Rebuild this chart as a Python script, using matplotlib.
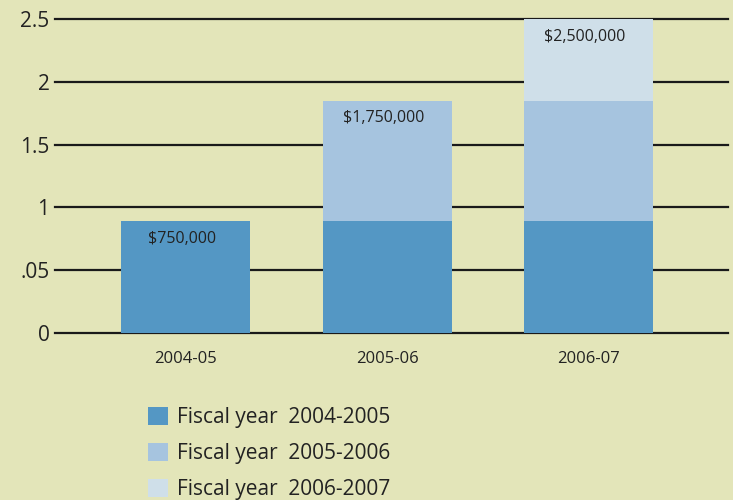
import matplotlib.pyplot as plt
from matplotlib.patches import Patch

years = ["2004-05", "2005-06", "2006-07"]
fy_0405 = [0.89, 0.89, 0.89]
fy_0506 = [0, 0.96, 0.96]
fy_0607 = [0, 0, 0.65]
totals = ["\\$750,000", "\\$1,750,000", "\\$2,500,000"]
yticks = [0, 0.5, 1, 1.5, 2, 2.5]
yticklabels = ["0", ".05", "1", "1.5", "2", "2.5"]
legend_labels = ["Fiscal year  2004-2005", "Fiscal year  2005-2006", "Fiscal year  2006-2007"]

bg = "#e3e5b9"
c1, c2, c3 = "#5497c4", "#a6c4df", "#cfdfe9"
txt = "#222222"

plt.rcParams['font.family'] = ['Open Sans', 'DejaVu Sans']

fig = plt.figure(figsize=(7.33, 5), dpi=100, facecolor=bg)
ax = fig.add_axes([0.075, 0.334, 0.918, 0.628])
ax.set_facecolor(bg)

x = list(range(len(years)))
w = 0.64
bottom2 = fy_0405
bottom3 = [a + b for a, b in zip(fy_0405, fy_0506)]
ax.bar(x, fy_0405, width=w, color=c1, zorder=2)
ax.bar(x, fy_0506, width=w, bottom=bottom2, color=c2, zorder=2)
ax.bar(x, fy_0607, width=w, bottom=bottom3, color=c3, zorder=2)

for i in x:
    top = fy_0405[i] + fy_0506[i] + fy_0607[i]
    ax.annotate(totals[i], (i, top), xytext=(-3, -7), textcoords="offset points",
                ha="center", va="top", fontsize=11.5, color=txt, zorder=3)

ax.set_xlim(-0.65, 2.69)
ax.set_ylim(0, 2.5)
ax.set_yticks(yticks)
ax.set_yticklabels(yticklabels, fontsize=15, color=txt)
ax.set_xticks(x)
ax.set_xticklabels(years, fontsize=12, color=txt)
ax.tick_params(length=0)
ax.tick_params(axis="y", pad=4)
ax.tick_params(axis="x", pad=13)
for s in ax.spines.values():
    s.set_visible(False)
ax.yaxis.grid(True, color="#1a1a1a", linewidth=1.6, zorder=1)
ax.set_axisbelow(True)
for gl in ax.get_ygridlines():
    gl.set_clip_on(False)

handles = [Patch(facecolor=c) for c in (c1, c2, c3)]
fig.legend(handles, legend_labels, loc="upper left", bbox_to_anchor=(0.202, 0.186),
           frameon=False, fontsize=15, handlelength=0.96, handleheight=0.96,
           handletextpad=0.43, labelspacing=0.7, borderaxespad=0, borderpad=0,
           labelcolor=txt)

fig.savefig("out.png", dpi=100, facecolor=bg)
